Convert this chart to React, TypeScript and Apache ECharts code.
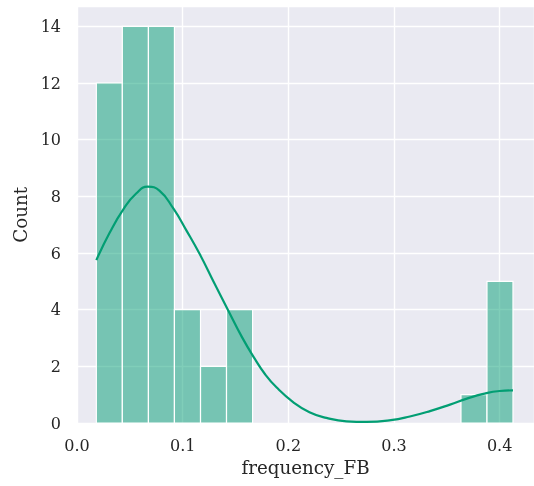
import React, { useEffect, useRef } from "react";
import * as echarts from "echarts";

// Histogram bin edges (left, right) and counts
const binLeft = [0.0183, 0.0429, 0.0676, 0.0922, 0.1169, 0.1415, 0.1662, 0.1908, 0.2155, 0.2401, 0.2648, 0.2894, 0.3141, 0.3387, 0.3634, 0.388];
const binRight = [0.0429, 0.0676, 0.0922, 0.1169, 0.1415, 0.1662, 0.1908, 0.2155, 0.2401, 0.2648, 0.2894, 0.3141, 0.3387, 0.3634, 0.388, 0.4126];
const counts = [12, 14, 14, 4, 2, 4, 0, 0, 0, 0, 0, 0, 0, 0, 1, 5];

// KDE curve
const kdeX = [0.0183, 0.031, 0.044, 0.056, 0.067, 0.078, 0.091, 0.1035, 0.116, 0.130, 0.143, 0.156, 0.168, 0.178, 0.189, 0.2045, 0.220, 0.236, 0.255, 0.274, 0.297, 0.315, 0.334, 0.353, 0.369, 0.3845, 0.400, 0.4126];
const kdeY = [5.75, 6.72, 7.55, 8.10, 8.34, 8.20, 7.58, 6.80, 5.97, 4.93, 3.98, 3.04, 2.28, 1.72, 1.25, 0.74, 0.38, 0.18, 0.06, 0.04, 0.10, 0.23, 0.42, 0.65, 0.86, 1.03, 1.13, 1.15];

const xTicks = [0, 0.1, 0.2, 0.3, 0.4];
const yTicks = [0, 2, 4, 6, 8, 10, 12, 14];

const GREEN = "#029E73";
const FONT = "DejaVu Serif";

export default function App() {
  const ref = useRef<HTMLDivElement>(null);
  useEffect(() => {
    if (!ref.current) return;
    const chart = echarts.init(ref.current, null, { renderer: "svg" });
    const barData = counts.map((c, i) => [binLeft[i], binRight[i], c]);
    const lineData = kdeX.map((x, i) => [x, kdeY[i]]);
    chart.setOption({
      animation: false,
      grid: {
        left: 77,
        right: 0,
        top: 6.5,
        bottom: 63,
        show: true,
        backgroundColor: "#EAEAF2",
        borderWidth: 0,
      },
      xAxis: {
        type: "value",
        min: 0,
        max: 0.4325,
        interval: 0.1,
        axisLine: { show: false },
        axisTick: { show: false },
        splitLine: { show: true, lineStyle: { color: "#FFFFFF", width: 1.4 } },
        axisLabel: {
          margin: 14,
          color: "#262626",
          fontFamily: FONT,
          fontSize: 16,
          showMaxLabel: false,
          formatter: (v: number) =>
            xTicks.some((t) => Math.abs(t - v) < 1e-9) ? v.toFixed(1) : "",
        },
        name: "frequency_FB",
        nameLocation: "middle",
        nameGap: 35,
        nameTextStyle: { color: "#262626", fontFamily: FONT, fontSize: 18.3 },
      },
      yAxis: {
        type: "value",
        min: 0,
        max: 14.7,
        interval: 2,
        axisLine: { show: false },
        axisTick: { show: false },
        splitLine: { show: true, lineStyle: { color: "#FFFFFF", width: 1.4 } },
        axisLabel: {
          margin: 16,
          color: "#262626",
          fontFamily: FONT,
          fontSize: 16,
          showMaxLabel: false,
          formatter: (v: number) =>
            yTicks.includes(v) ? String(v) : "",
        },
        name: "Count",
        nameLocation: "middle",
        nameGap: 44,
        nameTextStyle: { color: "#262626", fontFamily: FONT, fontSize: 18.3 },
      },
      series: [
        {
          type: "custom",
          data: barData,
          encode: { x: [0, 1], y: 2 },
          renderItem: (params: any, api: any) => {
            const x0 = api.value(0);
            const x1 = api.value(1);
            const c = api.value(2);
            if (!c) return null;
            const p0 = api.coord([x0, c]);
            const p1 = api.coord([x1, 0]);
            return {
              type: "rect",
              shape: { x: p0[0], y: p0[1], width: p1[0] - p0[0], height: p1[1] - p0[1] },
              style: { fill: "rgba(2,158,115,0.5)", stroke: "#FFFFFF", lineWidth: 1.2 },
            };
          },
        },
        {
          type: "line",
          data: lineData,
          smooth: 0.5,
          showSymbol: false,
          lineStyle: { color: GREEN, width: 2.2 },
        },
      ],
    });
    return () => chart.dispose();
  }, []);
  return (
    <div
      ref={ref}
      style={{ position: "fixed", left: 0, top: 0, width: 534, height: 486 }}
    />
  );
}
